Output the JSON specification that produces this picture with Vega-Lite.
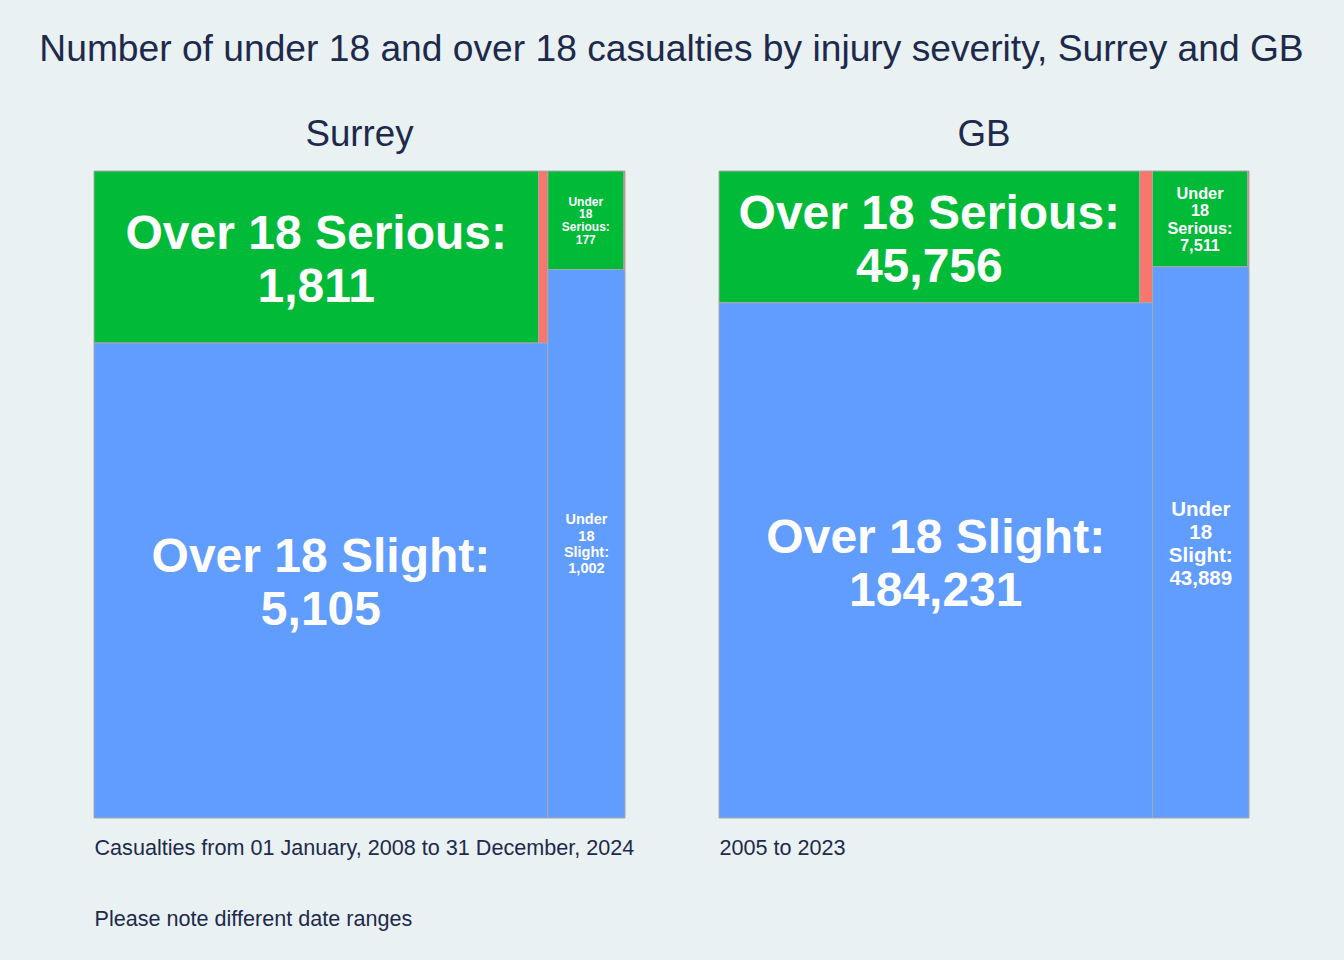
{
  "$schema": "https://vega.github.io/schema/vega-lite/v6.json",
  "background": "#EAF1F3",
  "padding": {"left": 39, "right": 40, "top": 30, "bottom": 40},
  "title": {"text": "Number of under 18 and over 18 casualties by injury severity, Surrey and GB", "fontSize": 37.2, "offset": 48},
  "data": {"values": [
    {"region": "Surrey", "age": "Over 18", "severity": "Fatal", "n": 38},
    {"region": "Surrey", "age": "Over 18", "severity": "Serious", "n": 1811},
    {"region": "Surrey", "age": "Over 18", "severity": "Slight", "n": 5105},
    {"region": "Surrey", "age": "Under 18", "severity": "Fatal", "n": 3},
    {"region": "Surrey", "age": "Under 18", "severity": "Serious", "n": 177},
    {"region": "Surrey", "age": "Under 18", "severity": "Slight", "n": 1002},
    {"region": "GB", "age": "Over 18", "severity": "Fatal", "n": 1400},
    {"region": "GB", "age": "Over 18", "severity": "Serious", "n": 45756},
    {"region": "GB", "age": "Over 18", "severity": "Slight", "n": 184231},
    {"region": "GB", "age": "Under 18", "severity": "Fatal", "n": 120},
    {"region": "GB", "age": "Under 18", "severity": "Serious", "n": 7511},
    {"region": "GB", "age": "Under 18", "severity": "Slight", "n": 43889}
  ]},
  "bounds": "flush",
  "spacing": 94,
  "transform": [
    {"joinaggregate": [{"op": "sum", "field": "n", "as": "total"}], "groupby": ["region"]},
    {"joinaggregate": [{"op": "sum", "field": "n", "as": "ageTotal"}], "groupby": ["region", "age"]},
    {"calculate": "datum.severity == 'Slight' ? 0 : datum.n", "as": "topPart"},
    {"calculate": "datum.severity == 'Serious' ? datum.n : 0", "as": "seriousPart"},
    {"joinaggregate": [{"op": "sum", "field": "topPart", "as": "topTotal"}, {"op": "sum", "field": "seriousPart", "as": "seriousTotal"}], "groupby": ["region", "age"]},
    {"calculate": "datum.age == 'Over 18' ? 0 : 1 - datum.ageTotal / datum.total", "as": "cx0"},
    {"calculate": "datum.ageTotal / datum.total", "as": "cw"},
    {"calculate": "datum.severity == 'Fatal' ? datum.cx0 + datum.cw * datum.seriousTotal / datum.topTotal : datum.cx0", "as": "x0"},
    {"calculate": "datum.severity == 'Serious' ? datum.cx0 + datum.cw * datum.seriousTotal / datum.topTotal : datum.cx0 + datum.cw", "as": "x1"},
    {"calculate": "datum.severity == 'Slight' ? datum.topTotal / datum.ageTotal : 0", "as": "y0"},
    {"calculate": "datum.severity == 'Slight' ? 1 : datum.topTotal / datum.ageTotal", "as": "y1"},
    {"calculate": "(datum.x0 + datum.x1) / 2", "as": "xm"},
    {"calculate": "(datum.y0 + datum.y1) / 2", "as": "ym"},
    {"calculate": "datum.age == 'Over 18' ? [datum.age + ' ' + datum.severity + ':', format(datum.n, ',')] : split(datum.age + ' ' + datum.severity + ': ' + format(datum.n, ','), ' ')", "as": "label"}
  ],
  "hconcat": [
    {
      "width": 531,
      "height": 647,
      "title": {"text": "Surrey", "fontSize": 36.7, "offset": 17},
      "transform": [{"filter": "datum.region == 'Surrey'"}],
      "layer": [
        {
          "mark": {"type": "rect", "stroke": "#A8A8A8", "strokeWidth": 1},
          "encoding": {
            "x": {"field": "x0", "type": "quantitative", "scale": {"domain": [0, 1], "nice": false, "zero": false},
              "axis": {"title": ["Casualties from 01 January, 2008 to 31 December, 2024", "Please note different date ranges"], "labels": false, "ticks": false, "domain": false, "grid": false, "titleAnchor": "start", "titleAlign": "left", "titleFontSize": 21.6, "titleFontWeight": "normal", "titleColor": "#1D2A4B", "titlePadding": 19, "titleLineHeight": 71, "titleFont": "Liberation Sans"}},
            "x2": {"field": "x1"},
            "y": {"field": "y0", "type": "quantitative", "scale": {"domain": [0, 1], "reverse": true, "nice": false, "zero": false}, "axis": null},
            "y2": {"field": "y1"},
            "color": {"field": "severity", "type": "nominal", "scale": {"domain": ["Fatal", "Serious", "Slight"], "range": ["#F8766D", "#00BA38", "#619CFF"]}, "legend": null}
          }
        },
        {
          "transform": [{"filter": "datum.age == 'Over 18' && datum.severity != 'Fatal'"}],
          "mark": {"type": "text", "fontSize": 48, "lineHeight": 53, "dy": -22.5, "fontWeight": "bold", "color": "white", "font": "Liberation Sans", "baseline": "middle", "align": "center"},
          "encoding": {
            "x": {"field": "xm", "type": "quantitative", "scale": {"domain": [0, 1], "nice": false, "zero": false},
              "axis": {"title": ["Casualties from 01 January, 2008 to 31 December, 2024", "Please note different date ranges"], "labels": false, "ticks": false, "domain": false, "grid": false, "titleAnchor": "start", "titleAlign": "left", "titleFontSize": 21.6, "titleFontWeight": "normal", "titleColor": "#1D2A4B", "titlePadding": 19, "titleLineHeight": 71, "titleFont": "Liberation Sans"}},
            "y": {"field": "ym", "type": "quantitative", "scale": {"domain": [0, 1], "reverse": true, "nice": false, "zero": false}, "axis": null},
            "text": {"field": "label", "type": "nominal"}
          }
        },
        {
          "transform": [{"filter": "datum.age == 'Under 18' && datum.severity == 'Serious'"}],
          "mark": {"type": "text", "fontSize": 12, "lineHeight": 12.7, "dy": -18.5, "fontWeight": "bold", "color": "white", "font": "Liberation Sans", "baseline": "middle", "align": "center"},
          "encoding": {
            "x": {"field": "xm", "type": "quantitative", "scale": {"domain": [0, 1], "nice": false, "zero": false},
              "axis": {"title": ["Casualties from 01 January, 2008 to 31 December, 2024", "Please note different date ranges"], "labels": false, "ticks": false, "domain": false, "grid": false, "titleAnchor": "start", "titleAlign": "left", "titleFontSize": 21.6, "titleFontWeight": "normal", "titleColor": "#1D2A4B", "titlePadding": 19, "titleLineHeight": 71, "titleFont": "Liberation Sans"}},
            "y": {"field": "ym", "type": "quantitative", "scale": {"domain": [0, 1], "reverse": true, "nice": false, "zero": false}, "axis": null},
            "text": {"field": "label", "type": "nominal"}
          }
        },
        {
          "transform": [{"filter": "datum.age == 'Under 18' && datum.severity == 'Slight'"}],
          "mark": {"type": "text", "fontSize": 14.5, "lineHeight": 16.3, "dy": -23.5, "fontWeight": "bold", "color": "white", "font": "Liberation Sans", "baseline": "middle", "align": "center"},
          "encoding": {
            "x": {"field": "xm", "type": "quantitative", "scale": {"domain": [0, 1], "nice": false, "zero": false},
              "axis": {"title": ["Casualties from 01 January, 2008 to 31 December, 2024", "Please note different date ranges"], "labels": false, "ticks": false, "domain": false, "grid": false, "titleAnchor": "start", "titleAlign": "left", "titleFontSize": 21.6, "titleFontWeight": "normal", "titleColor": "#1D2A4B", "titlePadding": 19, "titleLineHeight": 71, "titleFont": "Liberation Sans"}},
            "y": {"field": "ym", "type": "quantitative", "scale": {"domain": [0, 1], "reverse": true, "nice": false, "zero": false}, "axis": null},
            "text": {"field": "label", "type": "nominal"}
          }
        }
      ]
    },
    {
      "width": 530,
      "height": 647,
      "title": {"text": "GB", "fontSize": 36.7, "offset": 17},
      "transform": [{"filter": "datum.region == 'GB'"}],
      "layer": [
        {
          "mark": {"type": "rect", "stroke": "#A8A8A8", "strokeWidth": 1},
          "encoding": {
            "x": {"field": "x0", "type": "quantitative", "scale": {"domain": [0, 1], "nice": false, "zero": false},
              "axis": {"title": "2005 to 2023", "labels": false, "ticks": false, "domain": false, "grid": false, "titleAnchor": "start", "titleAlign": "left", "titleFontSize": 21.6, "titleFontWeight": "normal", "titleColor": "#1D2A4B", "titlePadding": 19, "titleFont": "Liberation Sans"}},
            "x2": {"field": "x1"},
            "y": {"field": "y0", "type": "quantitative", "scale": {"domain": [0, 1], "reverse": true, "nice": false, "zero": false}, "axis": null},
            "y2": {"field": "y1"},
            "color": {"field": "severity", "type": "nominal", "scale": {"domain": ["Fatal", "Serious", "Slight"], "range": ["#F8766D", "#00BA38", "#619CFF"]}, "legend": null}
          }
        },
        {
          "transform": [{"filter": "datum.age == 'Over 18' && datum.severity != 'Fatal'"}],
          "mark": {"type": "text", "fontSize": 48, "lineHeight": 53, "dy": -21.5, "fontWeight": "bold", "color": "white", "font": "Liberation Sans", "baseline": "middle", "align": "center"},
          "encoding": {
            "x": {"field": "xm", "type": "quantitative", "scale": {"domain": [0, 1], "nice": false, "zero": false},
              "axis": {"title": "2005 to 2023", "labels": false, "ticks": false, "domain": false, "grid": false, "titleAnchor": "start", "titleAlign": "left", "titleFontSize": 21.6, "titleFontWeight": "normal", "titleColor": "#1D2A4B", "titlePadding": 19, "titleFont": "Liberation Sans"}},
            "y": {"field": "ym", "type": "quantitative", "scale": {"domain": [0, 1], "reverse": true, "nice": false, "zero": false}, "axis": null},
            "text": {"field": "label", "type": "nominal"}
          }
        },
        {
          "transform": [{"filter": "datum.age == 'Under 18' && datum.severity == 'Serious'"}],
          "mark": {"type": "text", "fontSize": 16.3, "lineHeight": 17.3, "dy": -25, "fontWeight": "bold", "color": "white", "font": "Liberation Sans", "baseline": "middle", "align": "center"},
          "encoding": {
            "x": {"field": "xm", "type": "quantitative", "scale": {"domain": [0, 1], "nice": false, "zero": false},
              "axis": {"title": "2005 to 2023", "labels": false, "ticks": false, "domain": false, "grid": false, "titleAnchor": "start", "titleAlign": "left", "titleFontSize": 21.6, "titleFontWeight": "normal", "titleColor": "#1D2A4B", "titlePadding": 19, "titleFont": "Liberation Sans"}},
            "y": {"field": "ym", "type": "quantitative", "scale": {"domain": [0, 1], "reverse": true, "nice": false, "zero": false}, "axis": null},
            "text": {"field": "label", "type": "nominal"}
          }
        },
        {
          "transform": [{"filter": "datum.age == 'Under 18' && datum.severity == 'Slight'"}],
          "mark": {"type": "text", "fontSize": 20.5, "lineHeight": 23, "dy": -32.5, "fontWeight": "bold", "color": "white", "font": "Liberation Sans", "baseline": "middle", "align": "center"},
          "encoding": {
            "x": {"field": "xm", "type": "quantitative", "scale": {"domain": [0, 1], "nice": false, "zero": false},
              "axis": {"title": "2005 to 2023", "labels": false, "ticks": false, "domain": false, "grid": false, "titleAnchor": "start", "titleAlign": "left", "titleFontSize": 21.6, "titleFontWeight": "normal", "titleColor": "#1D2A4B", "titlePadding": 19, "titleFont": "Liberation Sans"}},
            "y": {"field": "ym", "type": "quantitative", "scale": {"domain": [0, 1], "reverse": true, "nice": false, "zero": false}, "axis": null},
            "text": {"field": "label", "type": "nominal"}
          }
        }
      ]
    }
  ],
  "config": {
    "view": {"stroke": null},
    "font": "Liberation Sans",
    "title": {"font": "Liberation Sans", "fontWeight": "normal", "color": "#1D2A4B", "anchor": "middle"}
  }
}
